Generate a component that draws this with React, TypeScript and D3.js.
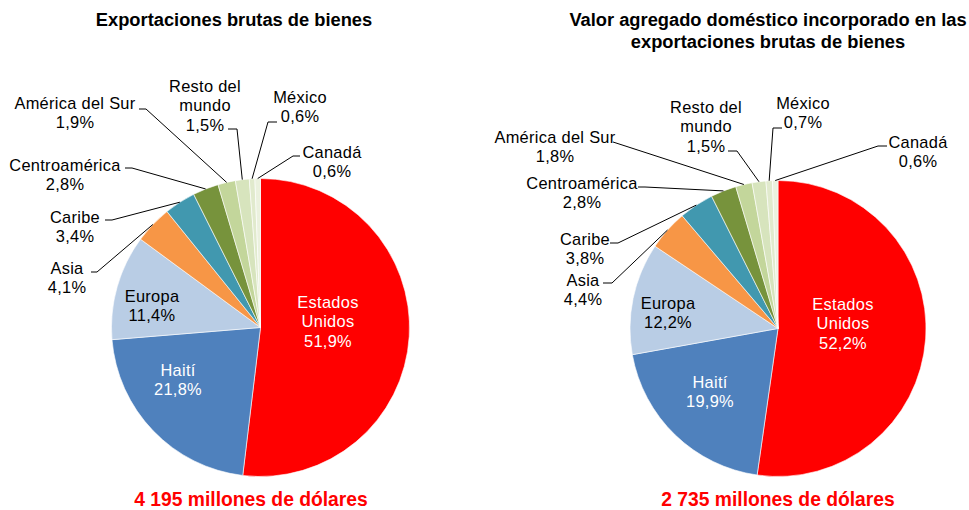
import * as d3 from 'd3'

// shares of gross exports of goods, by destination (%)
const regions = ['Estados Unidos', 'Haití', 'Europa', 'Asia', 'Caribe', 'Centroamérica', 'América del Sur', 'Resto del mundo', 'México', 'Canadá']
const labelLines = [['Estados', 'Unidos'], ['Haití'], ['Europa'], ['Asia'], ['Caribe'], ['Centroamérica'], ['América del Sur'], ['Resto del', 'mundo'], ['México'], ['Canadá']]
const grossExports = [51.9, 21.8, 11.4, 4.1, 3.4, 2.8, 1.9, 1.5, 0.6, 0.6]
const valueAdded = [52.2, 19.9, 12.2, 4.4, 3.8, 2.8, 1.8, 1.5, 0.7, 0.6]
const colors = ['#ff0000', '#4f81bd', '#b9cde5', '#f79646', '#4198af', '#77933c', '#c3d69b', '#d7e4bd', '#e1eacd', '#ebf1de']
const titles = [['Exportaciones brutas de bienes'], ['Valor agregado doméstico incorporado en las', 'exportaciones brutas de bienes']]
const totals = ['4 195 millones de dólares', '2 735 millones de dólares']

const font = '"Liberation Sans", Arial, sans-serif'
const lh = 19.5

type Lbl = { x: number; y: number; lead?: [number, number, number] }
const layouts: { cx: number; cy: number; r: number; tx: number; bx: number; labels: Lbl[] }[] = [
  {
    cx: 260.5, cy: 327.5, r: 149, tx: 234, bx: 251,
    labels: [
      { x: 328, y: 302 }, { x: 178, y: 370 }, { x: 152, y: 296 },
      { x: 67, y: 268, lead: [91, 272, 97] },
      { x: 75, y: 217, lead: [105, 220, 112] },
      { x: 65, y: 165, lead: [125, 168, 132] },
      { x: 75, y: 103, lead: [139, 109, 146] },
      { x: 205, y: 86, lead: [228, 129, 237] },
      { x: 300, y: 97, lead: [277, 122, 268] },
      { x: 332, y: 152, lead: [300, 156, 293] },
    ],
  },
  {
    cx: 778, cy: 328.5, r: 148, tx: 768, bx: 778,
    labels: [
      { x: 843, y: 304 }, { x: 710, y: 382 }, { x: 668, y: 303 },
      { x: 583, y: 280, lead: [603, 283, 612] },
      { x: 585, y: 239, lead: [610, 243, 618] },
      { x: 582, y: 183, lead: [638, 187, 645] },
      { x: 555, y: 137, lead: [613, 142, 613] },
      { x: 706, y: 107, lead: [728, 151, 737] },
      { x: 803, y: 103, lead: [782, 128, 773] },
      { x: 918, y: 142, lead: [887, 146, 878] },
    ],
  },
]

const fmt = (v: number) => v.toFixed(1).replace('.', ',') + '%'

function Pie({ values, idx }: { values: number[]; idx: number }) {
  const L = layouts[idx]
  const arcs = d3.pie<number>().sort(null).value(d => d)(values)
  const arc = d3.arc<d3.PieArcDatum<number>>().innerRadius(0).outerRadius(L.r)
  return (
    <g>
      {titles[idx].map((t, i) => (
        <text key={t} x={L.tx} y={26 + i * 22} textAnchor="middle" fontFamily={font} fontWeight="bold" fontSize={18.3} fill="#000">{t}</text>
      ))}
      <g transform={`translate(${L.cx},${L.cy})`}>
        {arcs.map((a, i) => (
          <path key={regions[i]} d={arc(a) || ''} fill={colors[i]} stroke="#fff" strokeWidth={0.6} />
        ))}
      </g>
      {arcs.map((a, i) => {
        const lb = L.labels[i]
        if (!lb.lead) return null
        const mid = (a.startAngle + a.endAngle) / 2
        const px = L.cx + L.r * Math.sin(mid)
        const py = L.cy - L.r * Math.cos(mid)
        const [sx, sy, ex] = lb.lead
        return <path key={'l' + i} d={`M${sx},${sy}H${ex}L${px},${py}`} fill="none" stroke="#000" strokeWidth={1} />
      })}
      {arcs.map((a, i) => {
        const lb = L.labels[i]
        const lines = [...labelLines[i], fmt(values[i])]
        return (
          <text key={'t' + i} textAnchor="middle" fontFamily={font} fontSize={16.4} letterSpacing={0.3}
            fill={i < 2 ? '#fff' : '#000'}>
            {lines.map((s, j) => (
              <tspan key={j} x={lb.x} y={lb.y + j * lh + 5.7}>{s}</tspan>
            ))}
          </text>
        )
      })}
      <text x={L.bx} y={506} textAnchor="middle" fontFamily={font} fontWeight="bold" fontSize={19.3} fill="#ff0000">{totals[idx]}</text>
    </g>
  )
}

export default function App() {
  return (
    <svg width={969} height={510} style={{ position: 'absolute', left: 0, top: 0, background: '#fff' }}>
      <Pie values={grossExports} idx={0} />
      <Pie values={valueAdded} idx={1} />
    </svg>
  )
}
